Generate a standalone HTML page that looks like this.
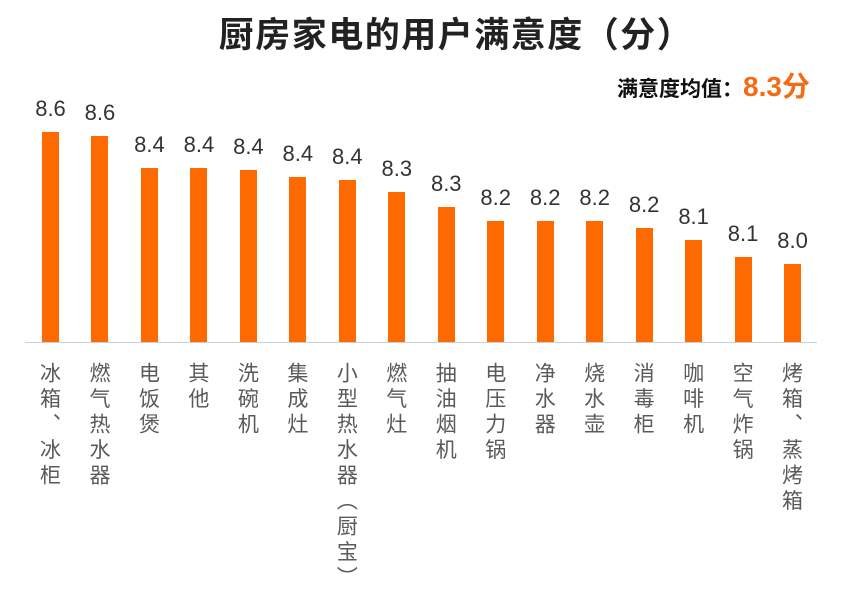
<!DOCTYPE html>
<html><head><meta charset="utf-8"><style>
body{margin:0;width:868px;height:602px;background:#fff;position:relative;overflow:hidden;font-family:"Liberation Sans","Noto Sans CJK SC",sans-serif}
.t{position:absolute;left:22px;width:868px;top:8px;text-align:center;font-size:35px;font-weight:bold;color:#222;letter-spacing:1.5px;font-family:"Noto Sans CJK SC",sans-serif;line-height:50px}
.b{position:absolute;width:17px;background:#ff6a00}
.v{position:absolute;width:60px;text-align:center;font-size:22px;color:#333}
.c{position:absolute;top:362px;writing-mode:vertical-rl;font-size:21px;color:#5a5a5a;line-height:24px;letter-spacing:4.5px;font-family:"Noto Sans CJK SC",sans-serif;width:24px}
</style></head><body>
<div class="t">厨房家电的用户满意度（分）</div>
<div style="position:absolute;left:617px;top:70px;font-size:21px;font-weight:bold;color:#111;font-family:'Noto Sans CJK SC',sans-serif;line-height:34px">满意度均值：<span style="color:#f36b13;font-size:28px;font-family:'Liberation Sans','Noto Sans CJK SC',sans-serif">8.3分</span></div>
<div style="position:absolute;left:25px;top:342px;width:792px;height:1px;background:#c8d0dc"></div>
<div id="ch"></div>
<script>
var d=[["冰箱、冰柜",8.6,132],["燃气热水器",8.6,136],["电饭煲",8.4,168],["其他",8.4,168],["洗碗机",8.4,170],["集成灶",8.4,177],["小型热水器（厨宝）",8.4,180],["燃气灶",8.3,192],["抽油烟机",8.3,207],["电压力锅",8.2,221],["净水器",8.2,221],["烧水壶",8.2,221],["消毒柜",8.2,228],["咖啡机",8.1,240],["空气炸锅",8.1,257],["烤箱、蒸烤箱",8.0,264]];
var h="";
d.forEach(function(e,i){var cx=50.5+i*49.47;
h+='<div class="b" style="left:'+(cx-8.5)+'px;top:'+e[2]+'px;height:'+(342-e[2])+'px"></div>';
h+='<div class="v" style="left:'+(cx-30)+'px;top:'+(e[2]-36)+'px">'+e[1].toFixed(1)+'</div>';
h+='<div class="c" style="left:'+(cx-12)+'px">'+e[0]+'</div>';});
document.getElementById("ch").innerHTML=h;
</script>
</body></html>
